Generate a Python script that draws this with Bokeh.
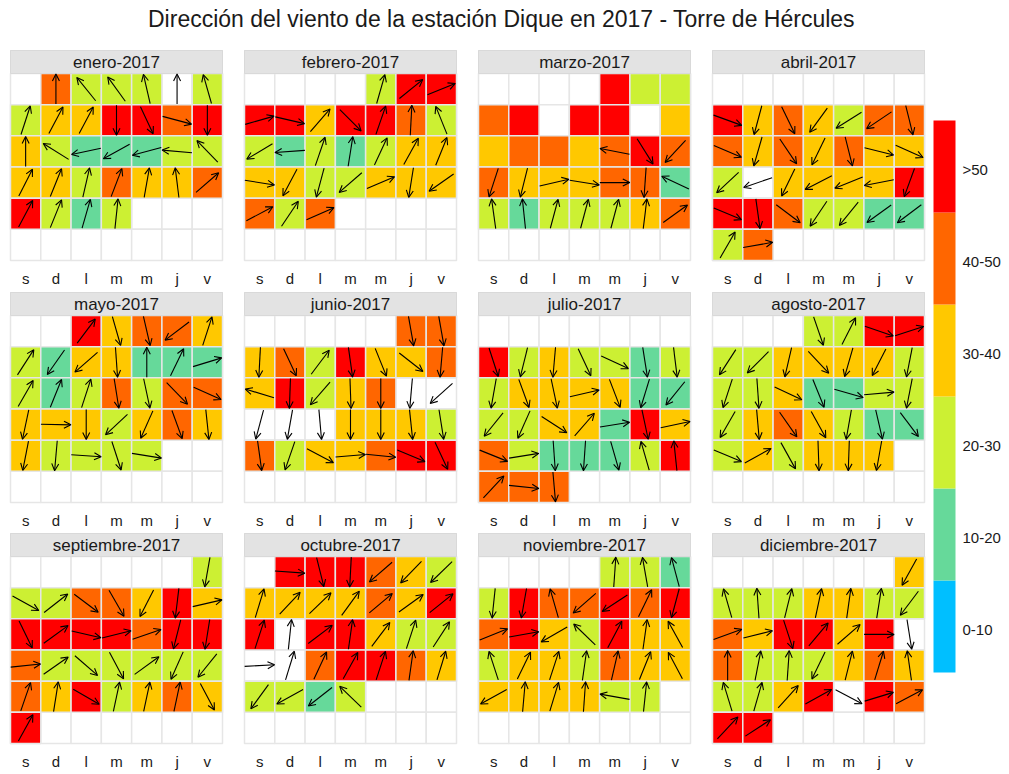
import datetime
import math
from bokeh.plotting import figure
from bokeh.models import Range1d, ColumnDataSource, Arrow, OpenHead
from bokeh.embed import file_html
from bokeh.resources import INLINE
from bokeh.core.properties import value

YEAR = 2017
title_text = "Dirección del viento de la estación Dique en 2017 - Torre de Hércules"
month_names = ["enero", "febrero", "marzo", "abril", "mayo", "junio", "julio",
               "agosto", "septiembre", "octubre", "noviembre", "diciembre"]
weekday_labels = ["s", "d", "l", "m", "m", "j", "v"]
speed_labels = ["0-10", "10-20", "20-30", "30-40", "40-50", ">50"]
speed_colors = ["#00BFFF", "#66D99A", "#CCF033", "#FFC800", "#FF6600", "#FF0000"]

# speed class per day: 0 "0-10" ... 5 ">50", -1 = no data
spd_ene = [4,2,2,2,-1,2, 2,3,3,5,5,4,5, 3,2,1,1,1,2,2, 3,3,2,4,3,3,4, 5,2,1,2]
spd_feb = [2,5,5, 5,5,3,5,5,4,2, 2,1,2,1,2,3,3, 3,3,2,2,3,3,3, 4,2,4,-1]
spd_mar = [5,2,2, 4,5,-1,5,5,-1,3, 3,4,4,3,4,5,4, 4,3,3,3,4,4,1, 2,1,2,2,2,3,4]
spd_abr = [5,3,4,3,2,4,4, 4,3,4,3,4,3,3, 2,-1,3,3,3,3,5, 5,5,4,2,2,1,1, 2,4]
spd_may = [5,3,4,4,3, 2,1,3,3,1,1,1, 2,1,2,4,2,4,4, 3,3,3,2,3,4,3, 3,2,2,2,2]
spd_jun = [4,4, 3,4,2,5,3,3,4, 3,5,2,3,4,-1,-1, -1,-1,-1,3,3,3,2, 4,2,3,3,4,5,5]
spd_jul = [5,2,3,2,2,1,2, 2,3,3,3,3,1,1, 2,2,3,3,1,5,3, 4,2,1,1,1,2,5, 4,4,4]
spd_ago = [2,2,5,5, 2,2,3,3,3,3,2, 2,2,3,1,1,2,2, 2,3,4,3,2,1,1, 2,3,2,3,3,3]
spd_sep = [2, 2,2,4,4,3,5,3, 5,5,5,5,4,5,5, 4,2,2,2,2,2,2, 4,3,5,2,3,4,3, 5]
spd_oct = [5,5,5,4,3,2, 3,3,3,3,4,3,5, 5,-1,5,5,3,2,2, -1,-1,4,5,5,4,3, 2,2,1,2]
spd_nov = [2,2,1, 2,5,4,4,5,4,5, 4,5,3,2,5,3,3, 2,3,3,2,4,3,3, 3,3,3,3,2,2]
spd_dic = [3, 2,2,2,3,3,2,2, 4,3,5,5,3,5,-1, 4,2,2,2,3,4,3, 2,2,3,5,-1,5,4, 5,5]

# direction the arrow points to (degrees, 0 = up, 90 = right), None = no arrow
dir_ene = [0,321,324,347,0,344, 18,28,28,180,155,105,180, 0,302,258,241,255,275,316,
           27,22,13,21,10,353,49, 28,22,16,6]
dir_feb = [16,51,68, 74,103,41,135,19,3,338, 239,266,19,9,25,29,22,
           99,208,195,229,67,189,235, 62,34,66,None]
dir_mar = [None,None,None, None,None,None,None,None,None,None,
           None,None,None,None,281,148,223, 198,194,77,99,90,184,295,
           352,354,15,15,15,7,54]
dir_abr = [110,195,154,216,238,236,166, 113,196,146,206,166,104,114,
           227,251,206,243,248,259,200, 113,172,127,214,219,234,233, 30,80]
dir_may = [37,164,167,233,18, 33,215,229,176,0,26,73, 30,22,18,171,168,136,114,
           192,91,180,227,204,160,174, 191,185,94,162,99]
dir_jun = [170,170, 183,155,37,172,158,128,185, 287,182,221,178,180,185,228,
           195,190,175,180,180,174,171, 172,199,118,85,96,113,155]
dir_jul = [162,194,185,155,115,171,173, 190,160,168,77,159,197,219,
           219,204,123,41,81,168,78, 112,81,176,184,164,344,354, 43,96,175]
dir_ago = [161,27,109,72, 213,225,193,137,196,207,191, 198,176,115,158,106,85,191,
           210,175,145,151,190,167,143, 113,61,151,178,182,190]
dir_sep = [190, 119,52,127,150,207,187,77, 154,54,103,76,71,194,189,
           84,55,131,152,54,204,219, 19,9,120,12,12,12,152, 29]
dir_oct = [94,166,183,229,224,226, 17,43,46,36,50,54,51, 18,6,53,8,37,18,33,
           87,17,25,29,18,8,17, 216,241,232,314]
dir_nov = [4,350,345, 186,190,344,229,237,26,195, 68,80,240,314,28,8,331,
           342,26,18,8,13,22,332, 241,5,17,4,280,6]
dir_dic = [209, 344,356,14,12,8,9,217, 70,76,162,40,49,90,171,
           0,11,4,206,14,17,352, 343,16,42,61,118,73,62, 43,57]

speed_by_month = [spd_ene, spd_feb, spd_mar, spd_abr, spd_may, spd_jun,
                  spd_jul, spd_ago, spd_sep, spd_oct, spd_nov, spd_dic]
dir_by_month = [dir_ene, dir_feb, dir_mar, dir_abr, dir_may, dir_jun,
                dir_jul, dir_ago, dir_sep, dir_oct, dir_nov, dir_dic]

# ---------------- layout ----------------
W, H = 1009, 774
p = figure(width=W, height=H, x_range=Range1d(0, W), y_range=Range1d(H, 0),
           output_backend="svg", toolbar_location=None, min_border=0)
p.axis.visible = False
p.grid.visible = False
p.outline_line_color = None
p.background_fill_color = "white"
p.border_fill_color = "white"

FONT = value("Liberation Sans")
panel_left = [10, 244, 478, 712]
panel_top = [50, 292, 533]
panel_w = 212.0
strip_h = 23.0
grid_h = 187.0
cell_w = panel_w / 7
cell_h = grid_h / 6
arrow_len = 30.0

bg = dict(x=[], y=[])
col = dict(x=[], y=[], c=[])
arr = dict(x0=[], y0=[], x1=[], y1=[])
strip = dict(x=[], y=[], t=[])
days = dict(x=[], y=[], t=[])
frames = dict(x=[], y=[], h=[])

for m in range(12):
    left = panel_left[m % 4]
    top = panel_top[m // 4]
    gtop = top + strip_h
    strip["x"].append(left + panel_w / 2)
    strip["y"].append(top + strip_h / 2)
    strip["t"].append(f"{month_names[m]}-{YEAR}")
    frames["x"].append(left + panel_w / 2)
    frames["y"].append(top + (strip_h + grid_h) / 2)
    frames["h"].append(strip_h + grid_h)
    for r in range(6):
        for c in range(7):
            bg["x"].append(left + (c + 0.5) * cell_w)
            bg["y"].append(gtop + (r + 0.5) * cell_h)
    for c in range(7):
        days["x"].append(left + (c + 0.5) * cell_w)
        days["y"].append(gtop + grid_h + 18)
        days["t"].append(weekday_labels[c])
    first = datetime.date(YEAR, m + 1, 1)
    off = (first.weekday() + 2) % 7
    if off == 0:
        off = 7
    for d, (s, a) in enumerate(zip(speed_by_month[m], dir_by_month[m])):
        idx = off + d
        r, c = divmod(idx, 7)
        cx = left + (c + 0.5) * cell_w
        cy = gtop + (r + 0.5) * cell_h
        if s >= 0:
            col["x"].append(cx)
            col["y"].append(cy)
            col["c"].append(speed_colors[s])
        if a is not None:
            t = math.radians(a)
            dx = math.sin(t) * arrow_len / 2
            dy = -math.cos(t) * arrow_len / 2
            arr["x0"].append(cx - dx)
            arr["y0"].append(cy - dy)
            arr["x1"].append(cx + dx)
            arr["y1"].append(cy + dy)

GRID_LINE = "#E6E6E6"
p.rect(x="x", y="y", width=panel_w, height="h", source=ColumnDataSource(frames),
       fill_color="white", line_color="#D9D9D9", line_width=1)
p.rect(x="x", y="y", width=cell_w, height=cell_h, source=ColumnDataSource(bg),
       fill_color="white", line_color=GRID_LINE, line_width=1.5)
p.rect(x="x", y="y", width=cell_w, height=cell_h, source=ColumnDataSource(col),
       fill_color="c", line_color=GRID_LINE, line_width=1.5)
p.rect(x="x", y="y", width=panel_w, height=strip_h, source=ColumnDataSource(strip),
       fill_color="#E3E3E3", line_color="#D9D9D9", line_width=1)
p.text(x="x", y="y", text="t", source=ColumnDataSource(strip), text_font=FONT,
       text_font_size="17px", text_align="center", text_baseline="middle",
       text_color="#1A1A1A")
p.text(x="x", y="y", text="t", source=ColumnDataSource(days), text_font=FONT,
       text_font_size="15px", text_align="center", text_baseline="middle",
       text_color="#1A1A1A")

p.add_layout(Arrow(end=OpenHead(size=7, line_width=1.1, line_color="black"),
                   source=ColumnDataSource(arr), x_start="x0", y_start="y0",
                   x_end="x1", y_end="y1", line_width=1.1, line_color="black"))

# legend (colour key)
key_top, key_bottom = 120.0, 672.0
seg_h = (key_bottom - key_top) / len(speed_labels)
key = dict(x=[], y=[], c=[], t=[], ty=[])
for i, lab in enumerate(speed_labels):
    yc = key_bottom - (i + 0.5) * seg_h
    key["x"].append(944)
    key["y"].append(yc)
    key["c"].append(speed_colors[i])
    key["t"].append(lab)
    key["ty"].append(yc + 3)
ksrc = ColumnDataSource(key)
p.rect(x="x", y="y", width=22, height=seg_h, source=ksrc, fill_color="c", line_color=None)
p.text(x=962, y="ty", text="t", source=ksrc, text_font=FONT, text_font_size="15px",
       text_align="left", text_baseline="middle", text_color="#1A1A1A")

p.text(x=[501], y=[18], text=[title_text], text_font=FONT, text_font_size="23px",
       text_align="center", text_baseline="middle", text_color="#1A1A1A")

open("out.html", "w").write(file_html(p, INLINE))
